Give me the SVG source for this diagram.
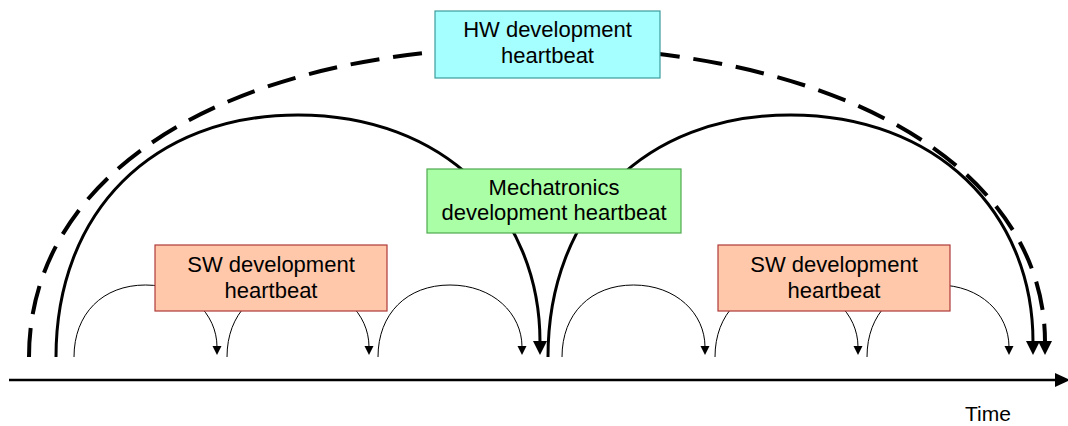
<svg xmlns="http://www.w3.org/2000/svg" width="1068" height="426" viewBox="0 0 1068 426">
  <style>
    .lbl { font-family: "Liberation Sans", Arial, sans-serif; font-size: 22px; fill: #000; text-anchor: middle; }
    .axis-lbl { font-family: "Liberation Sans", Arial, sans-serif; font-size: 21px; fill: #000; }
    .box { stroke-width: 1.2; }
    .hw { fill: #A6FFFF; stroke: #3C9C9C; }
    .mech { fill: #AAFFA6; stroke: #4FA84F; }
    .sw { fill: #FFC8AA; stroke: #B03A3A; }
    .arc { fill: none; stroke: #000; }
    .thin { stroke-width: 1; marker-end: url(#headSmall); }
    .thick { stroke-width: 3; marker-end: url(#headBig); }
    .dash { stroke-width: 4; stroke-dasharray: 29 14; marker-end: url(#headBig); }
  </style>
  <defs>
    <marker id="headSmall" markerUnits="userSpaceOnUse" markerWidth="12" markerHeight="12" viewBox="-2 -6 12 12" refX="0" refY="0" orient="auto">
      <path d="M-1 -4.5 L8 0 L-1 4.5 z" fill="#000"/>
    </marker>
    <marker id="headBig" markerUnits="userSpaceOnUse" markerWidth="18" markerHeight="18" viewBox="-2 -9 18 18" refX="0" refY="0" orient="auto">
      <path d="M-1 -7 L13 0 L-1 7 z" fill="#000"/>
    </marker>
  </defs>

  <!-- time axis -->
  <g id="time-axis">
    <line x1="9" y1="380" x2="1058" y2="380" stroke="#000" stroke-width="2.5"/>
    <polygon points="1055,373 1070,380 1055,387" fill="#000"/>
    <text class="axis-lbl" x="965" y="421">Time</text>
  </g>

  <!-- heartbeat cycles -->
  <g id="connectors">
    <!-- HW cycle -->
    <path class="arc dash" d="M29 357 C29 169.8 232.2 47 537 47 C841.8 47 1045 169.8 1045 342"/>
    <!-- mechatronics cycles -->
    <path class="arc thick" d="M56 357 C56 211.8 152.8 115 298 115 C443.2 115 540 211.8 540 342"/>
    <path class="arc thick" d="M548 357 C548 211.8 645.3 115 790.5 115 C935.7 115 1033 211.8 1033 342"/>
    <!-- SW cycles -->
    <path class="arc thin" d="M74 357 C74 313.8 102.6 285 145.5 285 C188.4 285 217 313.8 217 347"/>
    <path class="arc thin" d="M227 357 C227 313.8 255.4 285 298 285 C340.6 285 369 313.8 369 347"/>
    <path class="arc thin" d="M378 357 C378 313.8 406.8 285 450 285 C493.2 285 522 313.8 522 347"/>
    <path class="arc thin" d="M562 357 C562 313.8 590.6 285 633.5 285 C676.4 285 705 313.8 705 347"/>
    <path class="arc thin" d="M715 357 C715 313.8 743.6 285 786.5 285 C829.4 285 858 313.8 858 347"/>
    <path class="arc thin" d="M867 357 C867 313.8 895.4 285 938 285 C980.6 285 1009 313.8 1009 347"/>
  </g>

  <g id="hw-heartbeat">
    <rect class="box hw" x="435" y="11" width="225" height="67"/>
    <text class="lbl" x="547.5" y="37">HW development</text>
    <text class="lbl" x="547.5" y="63">heartbeat</text>
  </g>

  <g id="mechatronics-heartbeat">
    <rect class="box mech" x="427" y="169" width="254" height="64"/>
    <text class="lbl" x="554" y="195">Mechatronics</text>
    <text class="lbl" x="554" y="220">development heartbeat</text>
  </g>

  <g id="sw-heartbeat-left">
    <rect class="box sw" x="155" y="245" width="232" height="66"/>
    <text class="lbl" x="271" y="272">SW development</text>
    <text class="lbl" x="271" y="298">heartbeat</text>
  </g>

  <g id="sw-heartbeat-right">
    <rect class="box sw" x="718" y="245" width="232" height="66"/>
    <text class="lbl" x="834" y="272">SW development</text>
    <text class="lbl" x="834" y="298">heartbeat</text>
  </g>
</svg>
